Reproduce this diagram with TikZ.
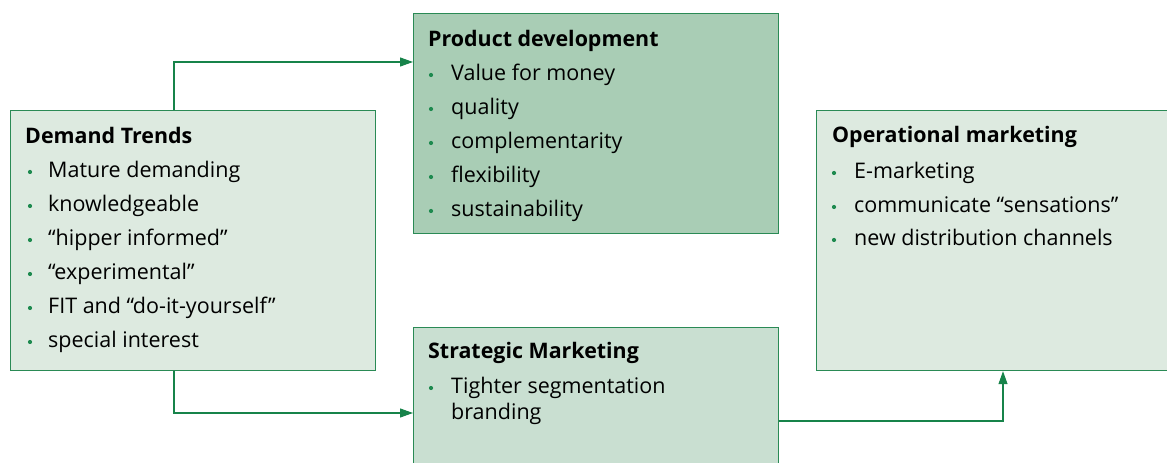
\documentclass[tikz,border=0pt]{standalone}
\usepackage{fontspec}
\setmainfont{Open Sans}
\usetikzlibrary{arrows.meta}
\definecolor{edge}{HTML}{2A8A55}
\definecolor{arrc}{HTML}{17834A}
\definecolor{fillA}{HTML}{DDEAE0}
\definecolor{fillB}{HTML}{A9CDB5}
\definecolor{fillC}{HTML}{C9DFD1}
\definecolor{bul}{HTML}{1E8A4F}
\begin{document}
\begin{tikzpicture}[x=1pt,y=1pt,
  box/.style={draw=edge,line width=1.2pt,inner sep=0pt,anchor=north west},
  ttl/.style={anchor=base west,inner sep=0pt,font=\fontsize{21.4}{25}\selectfont\bfseries},
  itm/.style={anchor=base west,inner sep=0pt,font=\fontsize{21.5}{25}\selectfont},
  dot/.style={circle,fill=bul,inner sep=0pt,minimum size=4.2pt},
  arr/.style={draw=arrc,line width=1.1pt,-{Triangle[length=13pt,width=9pt]}}]
\clip (0,0) rectangle (1167,463);
\useasboundingbox (0,0) rectangle (1167,463);
% boxes
\node[box,fill=fillA,minimum width=365pt,minimum height=260pt] (dem) at (10,353) {};
\node[box,fill=fillB,minimum width=365pt,minimum height=220pt] (prod) at (413,450) {};
\node[box,fill=fillC,minimum width=365pt,minimum height=170pt] (strat) at (413,136) {};
\node[box,fill=fillA,minimum width=400pt,minimum height=260pt] (op) at (816,353) {};
% Demand Trends
\node[ttl] (demT) at (25,319) {Demand Trends};
\node[dot] (demb1) at (30,291) {}; \node[itm] (dem1) at (48,285) {Mature demanding};
\node[dot] (demb2) at (30,257) {}; \node[itm] (dem2) at (48,251) {knowledgeable};
\node[dot] (demb3) at (30,223) {}; \node[itm] (dem3) at (48,217) {“hipper informed”};
\node[dot] (demb4) at (30,189) {}; \node[itm] (dem4) at (48,183) {“experimental”};
\node[dot] (demb5) at (30,155) {}; \node[itm] (dem5) at (48,149) {FIT and “do-it-yourself”};
\node[dot] (demb6) at (30,121) {}; \node[itm] (dem6) at (48,115) {special interest};
% Product development
\node[ttl] (prodT) at (428,416) {Product development};
\node[dot] (prodb1) at (431,388) {}; \node[itm] (prod1) at (451,382) {Value for money};
\node[dot] (prodb2) at (431,354) {}; \node[itm] (prod2) at (451,348) {quality};
\node[dot] (prodb3) at (431,320) {}; \node[itm] (prod3) at (451,314) {complementarity};
\node[dot] (prodb4) at (431,286) {}; \node[itm] (prod4) at (451,280) {flexibility};
\node[dot] (prodb5) at (431,252) {}; \node[itm] (prod5) at (451,246) {sustainability};
% Strategic Marketing
\node[ttl] (stratT) at (428,104) {Strategic Marketing};
\node[dot] (stratb1) at (431,75) {}; \node[itm] (strat1) at (451,69) {Tighter segmentation};
\node[itm] (strat2) at (451,43) {branding};
% Operational marketing
\node[ttl] (opT) at (832,320) {Operational marketing};
\node[dot] (opb1) at (834,290) {}; \node[itm] (op1) at (854,284) {E-marketing};
\node[dot] (opb2) at (834,256) {}; \node[itm] (op2) at (854,250) {communicate “sensations”};
\node[dot] (opb3) at (834,223) {}; \node[itm] (op3) at (854,217) {new distribution channels};
% connectors
\draw[arr] ([xshift=164pt]dem.north west) |- ([yshift=-49pt]prod.north west);
\draw[arr] ([xshift=164pt]dem.south west) |- ([yshift=-86pt]strat.north west);
\draw[arr] ([yshift=-94pt]strat.north east) -| ([xshift=187pt]op.south west);
\end{tikzpicture}
\end{document}
